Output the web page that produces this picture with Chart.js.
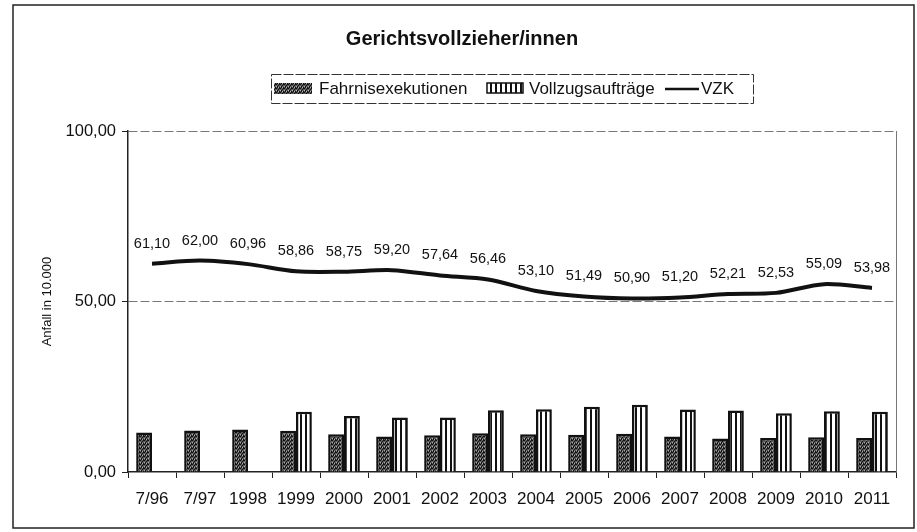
<!DOCTYPE html>
<html>
<head>
<meta charset="utf-8">
<script src="https://cdn.jsdelivr.net/npm/chart.js@4/dist/chart.umd.min.js"></script>
<style>
  body { margin: 0; background: #fff; }
  canvas { display: block; }
</style>
</head>
<body>
<canvas id="gvChart" width="917" height="532"></canvas>
<script>
const years = ['7/96', '7/97', '1998', '1999', '2000', '2001', '2002', '2003',
  '2004', '2005', '2006', '2007', '2008', '2009', '2010', '2011'];
const fahrnis = [11.6, 12.2, 12.5, 12.1, 11.1, 10.4, 10.8, 11.4, 11.1, 10.9, 11.2, 10.4, 9.8, 10.0, 10.2, 10.0];
const vollzug = [0, 0, 0, 17.7, 16.4, 16.0, 16.0, 18.1, 18.4, 19.1, 19.7, 18.3, 18.0, 17.2, 17.8, 17.7];
const vzk = [61.10, 62.00, 60.96, 58.86, 58.75, 59.20, 57.64, 56.46, 53.10, 51.49, 50.90, 51.20, 52.21, 52.53, 55.09, 53.98];
const yTicks = [0, 50, 100];

const FONT = '"Liberation Sans", Arial, sans-serif';

function stipplePattern() {
  const c = document.createElement('canvas');
  c.width = 4; c.height = 4;
  const g = c.getContext('2d');
  g.fillStyle = '#5a5a5a';
  g.fillRect(0, 0, 4, 4);
  g.fillStyle = '#111';
  [[0, 0], [2, 1], [1, 2], [3, 3], [3, 0], [1, 3]].forEach(p => g.fillRect(p[0], p[1], 1, 1));
  g.fillStyle = '#b0b0b0';
  [[2, 3], [0, 2]].forEach(p => g.fillRect(p[0], p[1], 1, 1));
  return g.createPattern(c, 'repeat');
}

function stripePattern() {
  const c = document.createElement('canvas');
  c.width = 5; c.height = 2;
  const g = c.getContext('2d');
  g.fillStyle = '#fff';
  g.fillRect(0, 0, 5, 2);
  g.fillStyle = '#111';
  g.fillRect(0, 0, 2, 2);
  return g.createPattern(c, 'repeat');
}

const fahrFill = stipplePattern();
const vollFill = stripePattern();

const fmt = v => v.toFixed(2).replace('.', ',');

const decor = {
  id: 'decor',
  afterDraw(chart) {
    const ctx = chart.ctx;
    const area = chart.chartArea;
    ctx.save();

    // outer frame
    ctx.strokeStyle = '#222';
    ctx.lineWidth = 1.5;
    ctx.strokeRect(13, 5, 901, 523);

    // right edge of plot
    ctx.strokeStyle = '#777';
    ctx.lineWidth = 1;
    ctx.beginPath();
    ctx.moveTo(area.right + 0.5, area.top);
    ctx.lineTo(area.right + 0.5, area.bottom);
    ctx.stroke();

    // title
    ctx.fillStyle = '#111';
    ctx.font = 'bold 20px ' + FONT;
    ctx.textAlign = 'center';
    ctx.textBaseline = 'middle';
    ctx.fillText('Gerichtsvollzieher/innen', 462, 39);

    // legend
    ctx.strokeStyle = '#333';
    ctx.lineWidth = 1;
    ctx.setLineDash([10, 2]);
    ctx.strokeRect(271.5, 74.5, 482, 29);
    ctx.setLineDash([]);
    ctx.font = '17px ' + FONT;
    ctx.textAlign = 'left';
    ctx.fillStyle = fahrFill;
    ctx.fillRect(274, 83, 38, 11);
    ctx.fillStyle = vollFill;
    ctx.fillRect(487, 83, 36, 10);
    ctx.strokeStyle = '#111';
    ctx.lineWidth = 1.5;
    ctx.strokeRect(487, 83, 36, 10);
    ctx.lineWidth = 2.5;
    ctx.beginPath();
    ctx.moveTo(665, 89);
    ctx.lineTo(699, 89);
    ctx.stroke();
    ctx.fillStyle = '#111';
    ctx.fillText('Fahrnisexekutionen', 319, 89);
    ctx.fillText('Vollzugsaufträge', 529, 89);
    ctx.fillText('VZK', 701, 89);

    // line value labels
    const meta = chart.getDatasetMeta(2);
    ctx.font = '14.5px ' + FONT;
    ctx.textAlign = 'center';
    meta.data.forEach((pt, i) => {
      ctx.fillText(fmt(vzk[i]), pt.x, pt.y - 20);
    });
    ctx.restore();
  }
};

new Chart(document.getElementById('gvChart'), {
  type: 'bar',
  data: {
    labels: years,
    datasets: [{
      label: 'Fahrnisexekutionen',
      data: fahrnis,
      backgroundColor: fahrFill,
      borderColor: '#111',
      borderWidth: 2.5,
      barPercentage: 1,
      categoryPercentage: 0.66
    }, {
      label: 'Vollzugsaufträge',
      data: vollzug,
      backgroundColor: vollFill,
      borderColor: '#111',
      borderWidth: 2.5,
      barPercentage: 1,
      categoryPercentage: 0.66
    }, {
      type: 'line',
      label: 'VZK',
      data: vzk,
      borderColor: '#111',
      borderWidth: 4,
      pointRadius: 0,
      tension: 0.3,
      fill: false
    }]
  },
  options: {
    responsive: false,
    animation: false,
    layout: { padding: { left: 30, right: 21, top: 131, bottom: 20 } },
    plugins: {
      legend: { display: false },
      title: { display: false },
      tooltip: { enabled: false }
    },
    scales: {
      x: {
        afterFit: s => { s.height = 40; },
        grid: { drawOnChartArea: false, tickLength: 6, tickColor: '#222', offset: true },
        border: { color: '#222', width: 1.5 },
        ticks: { color: '#111', font: { family: FONT, size: 17 }, padding: 11, maxRotation: 0 }
      },
      y: {
        min: 0,
        max: 100,
        afterFit: s => { s.width = 98; },
        afterBuildTicks: s => { s.ticks = yTicks.map(v => ({ value: v })); },
        grid: {
          color: c => c.tick && c.tick.value === 0 ? 'rgba(0,0,0,0)' : '#777',
          tickColor: '#222',
          tickLength: 6
        },
        border: { color: '#222', width: 1.5, dash: [9, 3] },
        ticks: {
          color: '#111',
          font: { family: FONT, size: 16.5 },
          padding: 6,
          callback: v => fmt(v)
        },
        title: {
          display: true,
          text: 'Anfall in 10.000',
          color: '#111',
          font: { family: FONT, size: 13 },
          padding: { top: 10, bottom: 13 }
        }
      }
    }
  },
  plugins: [decor]
});
</script>
</body>
</html>
